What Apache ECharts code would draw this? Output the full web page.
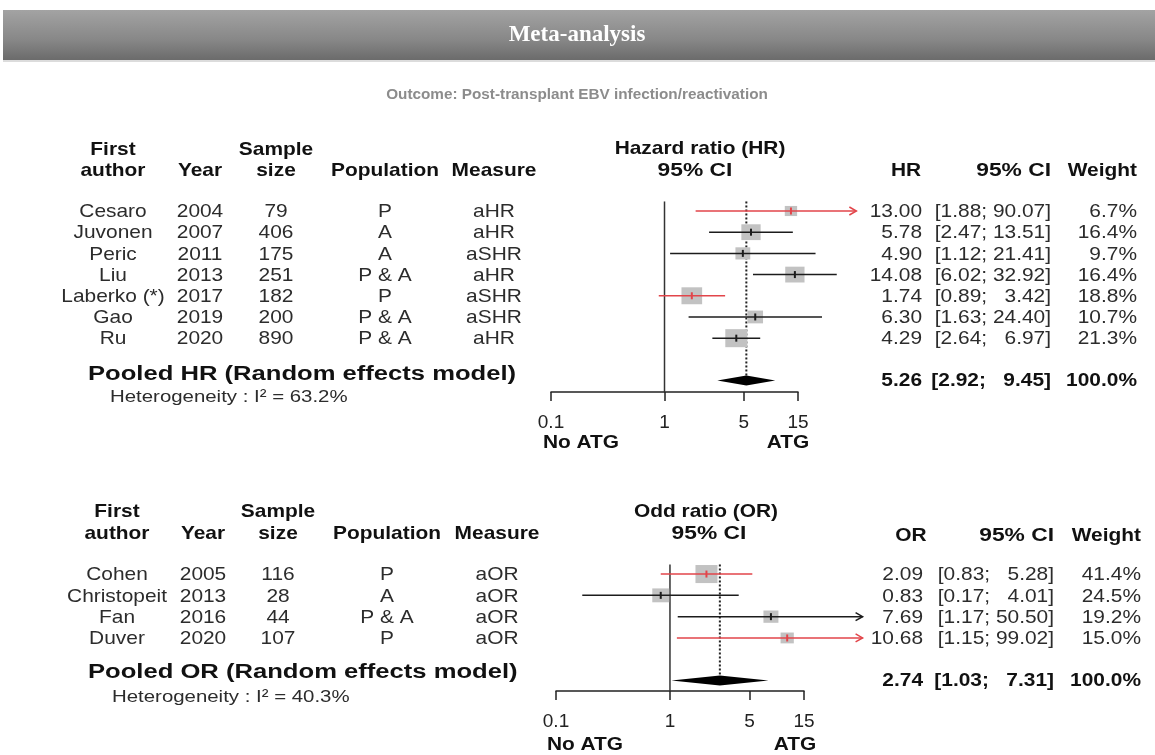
<!DOCTYPE html>
<html>
<head>
<meta charset="utf-8">
<script src="https://cdn.jsdelivr.net/npm/echarts@6/dist/echarts.min.js"></script>
<style>
html,body{margin:0;padding:0;background:#ffffff;}
#c{width:1155px;height:755px;}
</style>
</head>
<body>
<div id="c"></div>
<script>
// ---------------- DATA ----------------
// Panel 1: hazard ratios
const hrAuthors = ['Cesaro', 'Juvonen', 'Peric', 'Liu', 'Laberko (*)', 'Gao', 'Ru'];
const hrYears = [2004, 2007, 2011, 2013, 2017, 2019, 2020];
const hrSizes = [79, 406, 175, 251, 182, 200, 890];
const hrPopulations = ['P', 'A', 'A', 'P & A', 'P', 'P & A', 'P & A'];
const hrMeasures = ['aHR', 'aHR', 'aSHR', 'aHR', 'aSHR', 'aSHR', 'aHR'];
const hrValues = [13.00, 5.78, 4.90, 14.08, 1.74, 6.30, 4.29];
const hrLower = [1.88, 2.47, 1.12, 6.02, 0.89, 1.63, 2.64];
const hrUpper = [90.07, 13.51, 21.41, 32.92, 3.42, 24.40, 6.97];
const hrWeights = [6.7, 16.4, 9.7, 16.4, 18.8, 10.7, 21.3];
const hrHighlighted = [true, false, false, false, true, false, false];
const hrPooled = [5.26, 2.92, 9.45];
const hrPooledWeight = '100.0%';
const hrI2 = '63.2%';

// Panel 2: odds ratios
const orAuthors = ['Cohen', 'Christopeit', 'Fan', 'Duver'];
const orYears = [2005, 2013, 2016, 2020];
const orSizes = [116, 28, 44, 107];
const orPopulations = ['P', 'A', 'P & A', 'P'];
const orMeasures = ['aOR', 'aOR', 'aOR', 'aOR'];
const orValues = [2.09, 0.83, 7.69, 10.68];
const orLower = [0.83, 0.17, 1.17, 1.15];
const orUpper = [5.28, 4.01, 50.50, 99.02];
const orWeights = [41.4, 24.5, 19.2, 15.0];
const orHighlighted = [true, false, false, true];
const orPooled = [2.74, 1.03, 7.31];
const orPooledWeight = '100.0%';
const orI2 = '40.3%';

// Axis
const axisTickValues = [0.1, 1, 5, 15];
const axisMin = 0.1, axisMax = 15;
const xClip = 49;   // plotting limit of the forest (arrows beyond)

// ---------------- STYLE ----------------
const FONT = '"Liberation Sans", Arial, Helvetica, sans-serif';
const SX = 1.1;
const RED = '#e2454a';
const INK = '#1c1c1c';
const TXT = '#2c2c2c';
const HEAD = '#111111';
const BOXC = '#c2c2c2';
const BOX_MAX = 22;

function txt(x, y, s, o) {
  o = o || {};
  return {
    type: 'text', x: x, y: y, scaleX: o.sx || SX, silent: true,
    style: {
      text: s, fill: o.fill || TXT, fontFamily: o.family || FONT,
      fontSize: o.size || 19, fontWeight: o.bold ? 'bold' : 'normal',
      align: o.align || 'center', verticalAlign: 'middle'
    }
  };
}
function fmtCI(lo, hi) {
  return '[' + lo.toFixed(2) + '; ' + (hi < 10 ? '  ' : '') + hi.toFixed(2) + ']';
}
const lg = Math.log10;

const panels = [
  {
    authors: hrAuthors, years: hrYears, sizes: hrSizes, pops: hrPopulations, measures: hrMeasures,
    values: hrValues, lower: hrLower, upper: hrUpper, weights: hrWeights, hl: hrHighlighted,
    pooled: hrPooled, pooledWeight: hrPooledWeight, i2: hrI2,
    pooledLabel: 'Pooled HR (Random effects model)',
    grid: { left: 551, width: 247, top: 200.4, height: 191.6 }, yMax: 8.54, pooledRow: 8,
    cols: { author: 113, year: 200, size: 276, pop: 385, measure: 494, est: 922, ci: 1051, w: 1137, pooledLeft: 88, hetLeft: 110 },
    textDy: 1, pooledLabelDy: -6, hetDy: 17
  },
  {
    authors: orAuthors, years: orYears, sizes: orSizes, pops: orPopulations, measures: orMeasures,
    values: orValues, lower: orLower, upper: orUpper, weights: orWeights, hl: orHighlighted,
    pooled: orPooled, pooledWeight: orPooledWeight, i2: orI2,
    pooledLabel: 'Pooled OR (Random effects model)',
    grid: { left: 556, width: 248, top: 563.4, height: 127.6 }, yMax: 5.49, pooledRow: 5,
    cols: { author: 117, year: 203, size: 278, pop: 387, measure: 497, est: 923, ci: 1054, w: 1141, pooledLeft: 88, hetLeft: 112 },
    textDy: 1, pooledLabelDy: -8, hetDy: 17
  }
];

function studyRender(p) {
  const wmax = Math.max.apply(null, p.weights);
  return function (params, api) {
    const i = params.dataIndex;
    const y = api.coord([0, i])[1];
    const col = p.hl[i] ? RED : INK;
    const xLo = api.coord([lg(p.lower[i]), i])[0];
    const over = p.upper[i] > xClip;
    const xHi = api.coord([lg(Math.min(p.upper[i], xClip)), i])[0];
    const xEst = api.coord([lg(p.values[i]), i])[0];
    const s = BOX_MAX * Math.sqrt(p.weights[i] / wmax);
    const h = s * 0.82;
    const kids = [
      { type: 'rect', shape: { x: xEst - s / 2, y: y - h / 2, width: s, height: h }, style: { fill: BOXC } },
      { type: 'line', shape: { x1: xLo, y1: y, x2: xHi, y2: y }, style: { stroke: col, lineWidth: 1.5 } },
      { type: 'line', shape: { x1: xEst, y1: y - 3.5, x2: xEst, y2: y + 3.5 }, style: { stroke: col, lineWidth: 2 } }
    ];
    if (over) {
      kids.push({ type: 'polyline', shape: { points: [[xHi - 7, y - 4], [xHi, y], [xHi - 7, y + 4]] },
        style: { stroke: col, lineWidth: 1.5, fill: 'none' } });
    }
    const c = p.cols, ty = y + p.textDy;
    kids.push(
      txt(c.author, ty, p.authors[i]),
      txt(c.year, ty, String(p.years[i])),
      txt(c.size, ty, String(p.sizes[i])),
      txt(c.pop, ty, p.pops[i]),
      txt(c.measure, ty, p.measures[i]),
      txt(c.est, ty, p.values[i].toFixed(2), { align: 'right' }),
      txt(c.ci, ty, fmtCI(p.lower[i], p.upper[i]), { align: 'right' }),
      txt(c.w, ty, p.weights[i].toFixed(1) + '%', { align: 'right' })
    );
    return { type: 'group', children: kids };
  };
}

function pooledRender(p) {
  return function (params, api) {
    const r = p.pooledRow;
    const y = api.coord([0, r])[1];
    const est = p.pooled[0], lo = p.pooled[1], hi = p.pooled[2];
    const xE = api.coord([lg(est), r])[0];
    const xL = api.coord([lg(lo), r])[0];
    const xH = api.coord([lg(hi), r])[0];
    const x1 = api.coord([0, r])[0];
    const yTop = api.coord([0, -0.45])[1];
    const yBot = api.coord([0, p.yMax])[1];
    const c = p.cols;
    return {
      type: 'group', children: [
        { type: 'line', shape: { x1: x1, y1: yTop, x2: x1, y2: yBot }, style: { stroke: '#333', lineWidth: 1.5 } },
        { type: 'line', shape: { x1: xE, y1: yTop, x2: xE, y2: y - 4 }, style: { stroke: '#222', lineWidth: 2, lineDash: [2, 2] } },
        { type: 'polygon', shape: { points: [[xL, y], [xE, y - 5], [xH, y], [xE, y + 5]] }, style: { fill: '#000' } },
        txt(c.pooledLeft, y + p.pooledLabelDy, p.pooledLabel, { bold: true, align: 'left', fill: HEAD, size: 20, sx: 1.28 }),
        txt(c.hetLeft, y + p.hetDy, 'Heterogeneity : I\u00B2 = ' + p.i2, { align: 'left', size: 17, sx: 1.2 }),
        txt(c.est, y, est.toFixed(2), { align: 'right', bold: true, fill: HEAD }),
        txt(c.ci, y, fmtCI(lo, hi), { align: 'right', bold: true, fill: HEAD }),
        txt(c.w, y, p.pooledWeight, { align: 'right', bold: true, fill: HEAD })
      ]
    };
  };
}

const tickLogs = axisTickValues.map(lg);
const grids = [], xAxes = [], yAxes = [], series = [];
panels.forEach(function (p, k) {
  grids.push(p.grid);
  xAxes.push({
    type: 'value', gridIndex: k, min: lg(axisMin), max: lg(axisMax),
    axisLine: { show: true, onZero: false, lineStyle: { color: '#222', width: 1.5 } },
    axisTick: { show: true, length: 9, customValues: tickLogs, lineStyle: { color: '#222', width: 1.5 } },
    axisLabel: {
      show: true, customValues: tickLogs, margin: 21, color: '#222', fontSize: 19, fontFamily: FONT,
      formatter: function (v) { return String(Math.round(Math.pow(10, v) * 100) / 100); }
    },
    splitLine: { show: false }
  });
  yAxes.push({ type: 'value', gridIndex: k, inverse: true, min: -0.5, max: p.yMax, show: false });
  series.push({
    type: 'custom', xAxisIndex: k, yAxisIndex: k, clip: false, z: 2,
    renderItem: pooledRender(p), data: [[lg(p.pooled[0]), p.pooledRow]]
  });
  series.push({
    type: 'custom', xAxisIndex: k, yAxisIndex: k, clip: false, z: 3,
    renderItem: studyRender(p),
    data: p.values.map(function (v, i) { return [lg(v), i]; })
  });
});

function htxt(x, y, s, o) { o = o || {}; o.bold = o.bold !== false; o.fill = o.fill || HEAD; return txt(x, y, s, o); }

const graphics = [
  { type: 'rect', shape: { x: 3, y: 10, width: 1152, height: 50 }, silent: true,
    style: { fill: new echarts.graphic.LinearGradient(0, 0, 0, 1, [
      { offset: 0, color: '#a3a3a3' }, { offset: 0.6, color: '#878787' }, { offset: 1, color: '#6b6b6b' }]) } },
  { type: 'rect', shape: { x: 3, y: 60, width: 1152, height: 2 }, silent: true, style: { fill: '#dcdcdc' } },
  txt(577, 35, 'Meta-analysis', { bold: true, fill: '#ffffff', size: 23, sx: 1, family: '"Liberation Serif", "Times New Roman", serif' }),
  txt(577, 95, 'Outcome: Post-transplant EBV infection/reactivation', { bold: true, fill: '#8c8c8c', size: 15, sx: 1.02 }),
  // top table headers
  htxt(113, 150, 'First'), htxt(276, 150, 'Sample'),
  htxt(113, 171, 'author'), htxt(200, 171, 'Year'), htxt(276, 171, 'size'),
  htxt(385, 171, 'Population'), htxt(494, 171, 'Measure'),
  htxt(700, 149, 'Hazard ratio (HR)'), htxt(695, 171, '95% CI', { sx: 1.2 }),
  htxt(906, 171, 'HR'), htxt(1051, 171, '95% CI', { align: 'right', sx: 1.2 }), htxt(1137, 171, 'Weight', { align: 'right' }),
  htxt(581, 443, 'No ATG'), htxt(788, 443, 'ATG'),
  // bottom table headers
  htxt(117, 512, 'First'), htxt(278, 512, 'Sample'),
  htxt(117, 534, 'author'), htxt(203, 534, 'Year'), htxt(278, 534, 'size'),
  htxt(387, 534, 'Population'), htxt(497, 534, 'Measure'),
  htxt(706, 512, 'Odd ratio (OR)'), htxt(709, 534, '95% CI', { sx: 1.2 }),
  htxt(911, 536, 'OR'), htxt(1054, 536, '95% CI', { align: 'right', sx: 1.2 }), htxt(1141, 536, 'Weight', { align: 'right' }),
  htxt(585, 745, 'No ATG'), htxt(795, 745, 'ATG')
];

const chart = echarts.init(document.getElementById('c'), null, { renderer: 'canvas' });
chart.setOption({
  backgroundColor: '#ffffff',
  animation: false,
  grid: grids,
  xAxis: xAxes,
  yAxis: yAxes,
  series: series,
  graphic: graphics
});
</script>
</body>
</html>
